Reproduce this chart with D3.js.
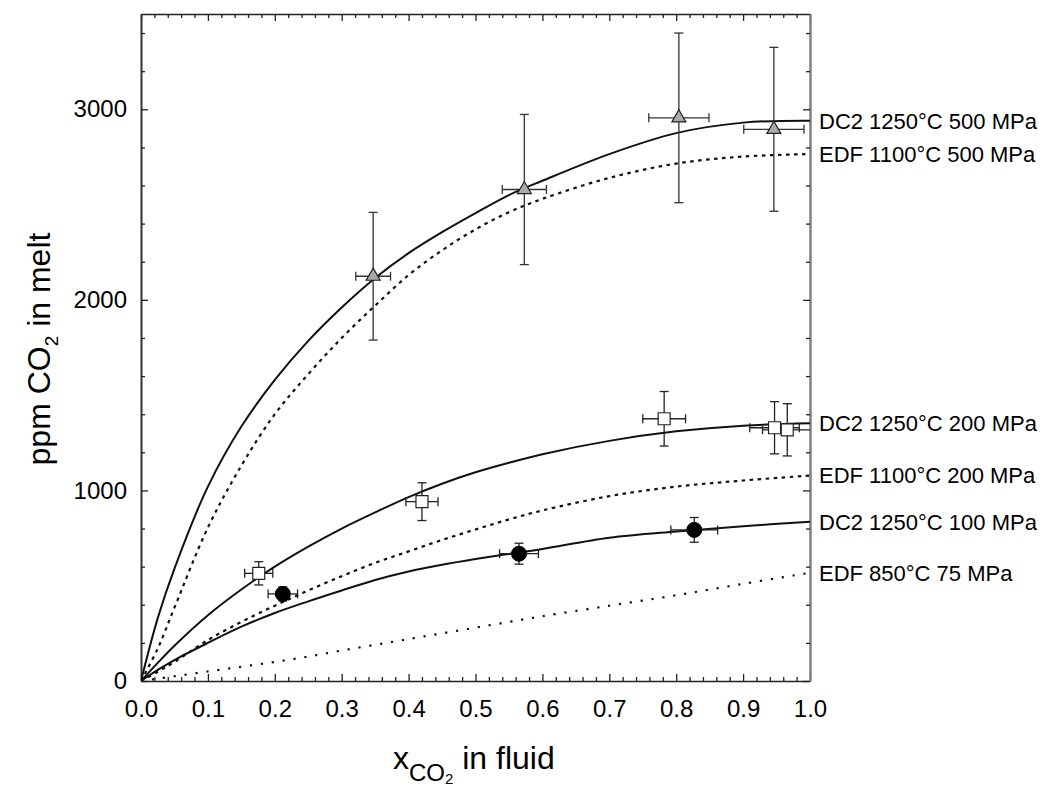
<!DOCTYPE html>
<html><head><meta charset="utf-8">
<script src="https://cdn.jsdelivr.net/npm/d3@7"></script>
<style>
body{margin:0;background:#fff}
svg{display:block}
text{font-family:Arial,"Liberation Sans",sans-serif;fill:#000}
</style>
</head><body>
<svg id="c" width="1042" height="787"></svg>
<script>
// ---- data ----
const curveX = [0,0.025,0.05,0.1,0.15,0.2,0.25,0.3,0.35,0.4,0.45,0.5,0.55,0.6,0.7,0.8,0.9,1.0];
const dc2_500 = [0,330,590,1020,1335,1580,1785,1960,2115,2245,2355,2455,2550,2625,2765,2875,2930,2940];
const edf_500 = [0,170,385,805,1130,1400,1610,1800,1970,2130,2260,2370,2460,2530,2640,2715,2752,2765];
const dc2_200 = [0,95,185,345,480,600,705,800,885,965,1035,1095,1145,1190,1260,1310,1340,1352];
const edf_200 = [0,48,100,215,310,395,475,550,620,680,740,795,848,895,970,1020,1052,1078];
const dc2_100 = [0,58,110,200,285,357,418,475,530,575,610,640,667,693,752,785,812,836];
const edf_75  = [0,12,25,50,75,100,128,160,190,220,250,280,310,340,395,450,510,568];
const curveNames = ["DC2 1250°C 500 MPa","EDF 1100°C 500 MPa","DC2 1250°C 200 MPa","EDF 1100°C 200 MPa","DC2 1250°C 100 MPa","EDF 850°C 75 MPa"];
const curveStyles = ["solid","dashed","solid","dashed","solid","dotted"];

const triX = [0.347,0.573,0.804,0.946], triY = [2124,2579,2955,2895];
const triXErr = [0.026,0.033,0.045,0.045], triYErr = [335,394,445,430];
const sqX = [0.176,0.42,0.782,0.947,0.966], sqY = [565,941,1376,1329,1318];
const sqXErr = [0.021,0.024,0.032,0.037,0.037], sqYErr = [61,99,143,137,137];
const cirX = [0.212,0.565,0.827], cirY = [457,668,793];
const cirXErr = [0.022,0.029,0.035], cirYErr = [37,55,65];

const xTickVals = [0,0.1,0.2,0.3,0.4,0.5,0.6,0.7,0.8,0.9,1.0];
const xTickLabels = ["0.0","0.1","0.2","0.3","0.4","0.5","0.6","0.7","0.8","0.9","1.0"];
const yTickVals = [0,1000,2000,3000];
const yTickLabels = ["0","1000","2000","3000"];

// ---- layout ----
const L = 141, R = 810, T = 14, B = 681;
const svg = d3.select("#c");
const x = d3.scaleLinear().domain([0,1]).range([L,R]);
const y = d3.scaleLinear().domain([0,3500]).range([B,T]);

svg.append("defs").append("clipPath").attr("id","clip")
  .append("rect").attr("x",L).attr("y",T).attr("width",R-L).attr("height",B-T);

// ---- axes ----
const xMinor = d3.range(0,1.0001,0.02).filter(v=>Math.abs(v*10-Math.round(v*10))>1e-6);
const yMinor = d3.range(0,3501,200).filter(v=>v%1000!==0);

function styleAxis(g, color, width){
  g.select(".domain").attr("stroke",color).attr("stroke-width",width);
  g.selectAll(".tick line").attr("stroke","#222").attr("stroke-width",1.3);
}
function minor(g){g.select(".domain").remove();g.selectAll(".tick line").attr("stroke","#222").attr("stroke-width",1.3);}
// bottom
const gb = svg.append("g").attr("transform",`translate(0,${B})`)
  .call(d3.axisBottom(x).tickValues(xTickVals).tickFormat((d,i)=>xTickLabels[i]).tickSizeInner(-7).tickSizeOuter(0).tickPadding(19));
styleAxis(gb,"#222",1.5);
gb.selectAll("text").attr("font-size",24).attr("fill","#000");
svg.append("g").attr("transform",`translate(0,${B})`)
  .call(d3.axisBottom(x).tickValues(xMinor).tickFormat("").tickSizeInner(-4).tickSizeOuter(0)).call(minor);
// top
const gt = svg.append("g").attr("transform",`translate(0,${T})`)
  .call(d3.axisTop(x).tickValues(xTickVals).tickFormat("").tickSizeInner(-7).tickSizeOuter(0));
styleAxis(gt,"#222",1.5);
svg.append("g").attr("transform",`translate(0,${T})`)
  .call(d3.axisTop(x).tickValues(xMinor).tickFormat("").tickSizeInner(-4).tickSizeOuter(0)).call(minor);
// left
const gl = svg.append("g").attr("transform",`translate(${L},0)`)
  .call(d3.axisLeft(y).tickValues(yTickVals).tickFormat((d,i)=>yTickLabels[i]).tickSizeInner(-7).tickSizeOuter(0).tickPadding(14));
styleAxis(gl,"#333",2);
gl.selectAll("text").attr("font-size",24).attr("fill","#000");
svg.append("g").attr("transform",`translate(${L},0)`)
  .call(d3.axisLeft(y).tickValues(yMinor).tickFormat("").tickSizeInner(-4).tickSizeOuter(0)).call(minor);
// right
const gr = svg.append("g").attr("transform",`translate(${R},0)`)
  .call(d3.axisRight(y).tickValues(yTickVals).tickFormat("").tickSizeInner(-7).tickSizeOuter(0));
styleAxis(gr,"#808080",2.5);
svg.append("g").attr("transform",`translate(${R},0)`)
  .call(d3.axisRight(y).tickValues(yMinor).tickFormat("").tickSizeInner(-4).tickSizeOuter(0)).call(minor);

// ---- curves ----
const series = [dc2_500, edf_500, dc2_200, edf_200, dc2_100, edf_75];
const dash = {solid:null, dashed:"3.5,4.5", dotted:"2.2,8.8"};
const line = d3.line().x(d=>x(d[0])).y(d=>y(d[1])).curve(d3.curveCatmullRom.alpha(0.5));
const gc = svg.append("g").attr("clip-path","url(#clip)");
series.forEach((s,i)=>{
  const pts = curveX.map((cx,j)=>[cx,s[j]]);
  gc.append("path").attr("d",line(pts)).attr("fill","none")
    .attr("stroke","#111").attr("stroke-width", curveStyles[i]==="solid"?2:2.2)
    .attr("stroke-dasharray",dash[curveStyles[i]]);
});
// curve labels
series.forEach((s,i)=>{
  svg.append("text").attr("x",R+9).attr("y",y(s[s.length-1])).attr("dy","0.36em")
    .attr("font-size",22).text(curveNames[i]);
});

// ---- error bars + markers ----
const ge = svg.append("g").attr("clip-path","url(#clip)");
function errBars(X,Y,XE,YE,color){
  X.forEach((xv,i)=>{
    const cx=x(xv), cy=y(Y[i]);
    const x0=x(xv-XE[i]), x1=x(xv+XE[i]), y0=y(Y[i]-YE[i]), y1=y(Y[i]+YE[i]);
    const g=ge.append("g").attr("stroke",color).attr("stroke-width",1.3);
    g.append("line").attr("x1",cx).attr("x2",cx).attr("y1",y0).attr("y2",y1);
    g.append("line").attr("x1",cx-4.5).attr("x2",cx+4.5).attr("y1",y0).attr("y2",y0);
    g.append("line").attr("x1",cx-4.5).attr("x2",cx+4.5).attr("y1",y1).attr("y2",y1);
    g.append("line").attr("x1",x0).attr("x2",x1).attr("y1",cy).attr("y2",cy);
    g.append("line").attr("x1",x0).attr("x2",x0).attr("y1",cy-4.5).attr("y2",cy+4.5);
    g.append("line").attr("x1",x1).attr("x2",x1).attr("y1",cy-4.5).attr("y2",cy+4.5);
  });
}
errBars(triX,triY,triXErr,triYErr,"#333");
errBars(sqX,sqY,sqXErr,sqYErr,"#222");
errBars(cirX,cirY,cirXErr,cirYErr,"#222");

const gm = svg.append("g");
triX.forEach((xv,i)=>{
  gm.append("path").attr("d",d3.symbol(d3.symbolTriangle,85)())
    .attr("transform",`translate(${x(xv)},${y(triY[i])})`)
    .attr("fill","#aaaaaa").attr("stroke","#222").attr("stroke-width",1.2);
});
sqX.forEach((xv,i)=>{
  gm.append("path").attr("d",d3.symbol(d3.symbolSquare,144)())
    .attr("transform",`translate(${x(xv)},${y(sqY[i])})`)
    .attr("fill","#fff").attr("stroke","#222").attr("stroke-width",1.2);
});
cirX.forEach((xv,i)=>{
  gm.append("circle").attr("cx",x(xv)).attr("cy",y(cirY[i])).attr("r",7.5)
    .attr("fill","#000").attr("stroke","#000");
});

// ---- axis titles ----
const xt = svg.append("text").attr("x",393).attr("y",769).attr("font-size",32);
xt.append("tspan").text("x");
xt.append("tspan").attr("font-size",24).attr("dy",12).text("CO");
xt.append("tspan").attr("font-size",15).attr("dy",3).text("2");
xt.append("tspan").attr("font-size",32).attr("dy",-15).text(" in fluid");

const yt = svg.append("text").attr("transform","translate(50,349) rotate(-90)")
  .attr("text-anchor","middle").attr("font-size",32);
yt.append("tspan").text("ppm CO");
yt.append("tspan").attr("font-size",19).attr("dy",8).text("2");
yt.append("tspan").attr("dy",-8).text(" in melt");
</script>
</body></html>
